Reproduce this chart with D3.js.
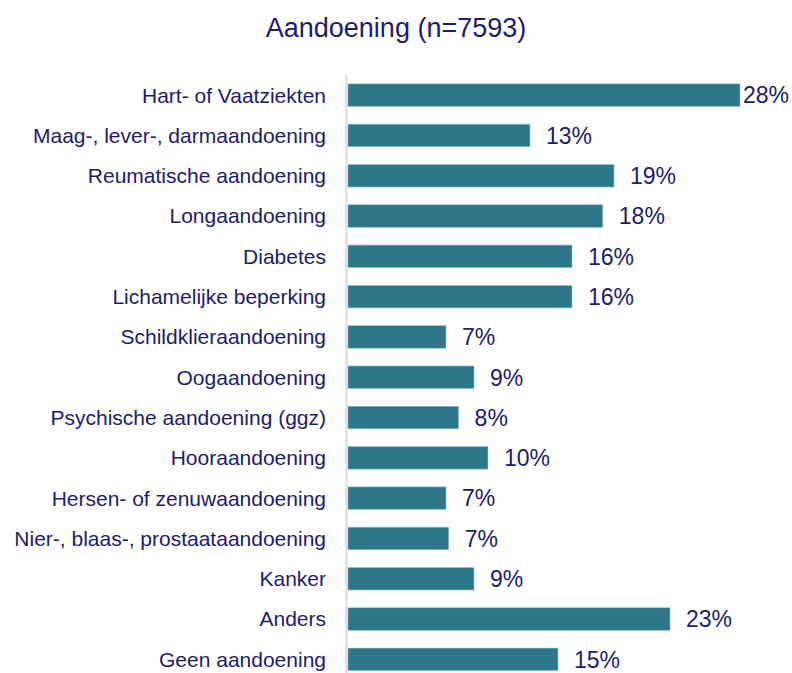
<!DOCTYPE html>
<html><head><meta charset="utf-8">
<script src="https://cdn.jsdelivr.net/npm/d3@7"></script>
<style>html,body{margin:0;padding:0;background:#fff;}</style>
</head><body>
<svg id="c" width="792" height="673"></svg>
<script>
const title = "Aandoening (n=7593)";
const categories = ["Hart- of Vaatziekten","Maag-, lever-, darmaandoening","Reumatische aandoening","Longaandoening","Diabetes","Lichamelijke beperking","Schildklieraandoening","Oogaandoening","Psychische aandoening (ggz)","Hooraandoening","Hersen- of zenuwaandoening","Nier-, blaas-, prostaataandoening","Kanker","Anders","Geen aandoening"];
const values = [28, 13, 19, 18.2, 16, 16, 7, 9, 7.9, 10, 7, 7.2, 9, 23, 15];
const labels = ["28%","13%","19%","18%","16%","16%","7%","9%","8%","10%","7%","7%","9%","23%","15%"];

const W = 792, H = 673;
const textColor = "#1e1b6e", barColor = "#2c7889";
const svg = d3.select("#c");

const x = d3.scaleLinear().domain([0, 30]).range([348, 768]);
const y = d3.scaleBand().domain(categories).range([75, 679.5]).paddingInner(0.44).paddingOuter(0.22);

svg.append("text").attr("x", 396).attr("y", 36.5).attr("text-anchor", "middle")
  .attr("font-family", "Liberation Sans, Arial, sans-serif").attr("font-size", 27)
  .attr("fill", textColor).text(title);

svg.append("line").attr("x1", 346.5).attr("x2", 346.5).attr("y1", 75).attr("y2", H)
  .attr("stroke", "#d9d9d9").attr("stroke-width", 2);

svg.selectAll("rect.bar").data(values).join("rect").attr("class", "bar")
  .attr("x", x(0)).attr("y", (d, i) => y(categories[i]))
  .attr("width", d => x(d) - x(0)).attr("height", y.bandwidth())
  .attr("fill", barColor).attr("stroke", "#9fc3cc").attr("stroke-width", 0.6);

svg.selectAll("text.cat").data(categories).join("text").attr("class", "cat")
  .attr("x", 326).attr("y", d => y(d) + y.bandwidth() / 2).attr("dy", "0.35em")
  .attr("text-anchor", "end").attr("font-family", "Liberation Sans, Arial, sans-serif")
  .attr("font-size", 21).attr("fill", textColor).text(d => d);

const vl = svg.selectAll("text.val").data(values).join("text").attr("class", "val")
  .attr("y", (d, i) => y(categories[i]) + y.bandwidth() / 2).attr("dy", "0.36em")
  .attr("font-family", "Liberation Sans, Arial, sans-serif").attr("font-size", 23)
  .attr("fill", textColor).text((d, i) => labels[i]);
vl.each(function(d) {
  const w = this.getComputedTextLength();
  const xx = Math.min(x(d) + 16, 789 - w);
  d3.select(this).attr("x", xx);
});
</script>
</body></html>
